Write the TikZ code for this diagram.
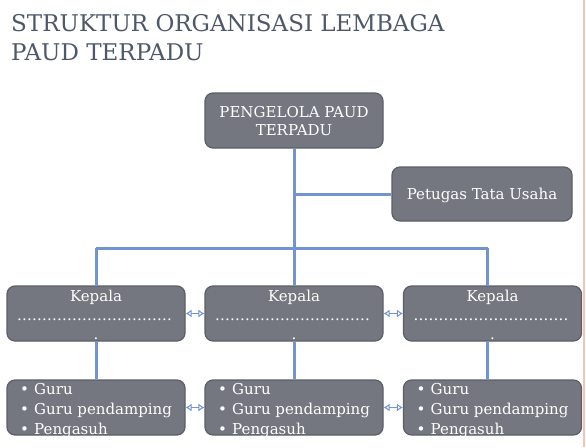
\documentclass[tikz,border=0pt]{standalone}
\usepackage{fontspec}
\setmainfont{DejaVu Serif}
\usetikzlibrary{arrows.meta}
\definecolor{boxfill}{HTML}{74777F}
\definecolor{boxline}{HTML}{5C5F66}
\definecolor{conn}{HTML}{7394D2}
\definecolor{titlec}{HTML}{4E5869}
\definecolor{pinkc}{HTML}{F7C4B4}
\begin{document}
\begin{tikzpicture}[x=1pt,y=-1pt,
  orgbox/.style={draw=boxline, line width=1.2pt, fill=boxfill, rounded corners=8pt, text=white, inner sep=0pt},
  link/.style={draw=conn, line width=3pt},
  dbl/.style={draw=conn, line width=1pt, {Latex[open,length=6pt,width=8pt]}-{Latex[open,length=6pt,width=8pt]}},
  boxtext/.style={font=\fontsize{15}{18}\selectfont, text=white, inner sep=0pt}
]
\useasboundingbox (0,0) rectangle (586,447);
\fill[white] (0,0) rectangle (586,447);
\draw[pinkc, line width=2pt] (583.5,0) -- (583.5,447);

% title
\node[anchor=base west, inner sep=0pt, text=titlec,
  font=\fontsize{23}{30}\selectfont] (title) at (11,31)
  {STRUKTUR ORGANISASI LEMBAGA};
\node[anchor=base west, inner sep=0pt, text=titlec,
  font=\fontsize{23}{30}\selectfont] (title2) at (11,60)
  {PAUD TERPADU};

% boxes
\node[orgbox, minimum width=178pt, minimum height=55pt] (top) at (294,120.5) {};
\node[boxtext, anchor=base] at (294,117) {PENGELOLA PAUD};
\node[boxtext, anchor=base] at (294,135) {TERPADU};
\node[orgbox, minimum width=180pt, minimum height=54pt] (tu) at (482,194) {};
\node[boxtext, anchor=base] at (482,199) {Petugas Tata Usaha};

\foreach \n/\x in {k1/96, k2/294, k3/492.5}{
  \node[orgbox, minimum width=178pt, minimum height=55pt] (\n) at (\x,313.5) {};
  \node[boxtext, anchor=base] at (\x,301) {Kepala};
  \node[boxtext, anchor=base] at (\x,320) {\makebox[158pt]{\leaders\hbox to 5pt{\hss.\hss}\hfill}};
  \node[boxtext, anchor=base] at (\x,339) {.};
}
\foreach \n/\x in {b1/96, b2/294, b3/492.5}{
  \node[orgbox, minimum width=178pt, minimum height=55pt] (\n) at (\x,407.5) {};
  \node[boxtext, anchor=base west] at (\x-76,394) {\textbullet};
  \node[boxtext, anchor=base west] at (\x-76,414) {\textbullet};
  \node[boxtext, anchor=base west] at (\x-76,434) {\textbullet};
  \node[boxtext, anchor=base west] at (\x-62,394) {Guru};
  \node[boxtext, anchor=base west] at (\x-62,414) {Guru pendamping};
  \node[boxtext, anchor=base west] at (\x-62,434) {Pengasuh};
}

% connectors
\coordinate (jv) at (294,248);
\draw[link] (top.south) -- (jv);
\draw[link] (top.south |- tu.west) -- (tu.west);
\draw[link] (96,248) -- (487.5,248);
\draw[link] (96,248) -- (96,286);
\draw[link] (487.5,248) -- (487.5,286);
\draw[link] (jv) -- (k2.north);
\draw[link] (k1.south) -- (b1.north);
\draw[link] (k2.south) -- (b2.north);
\draw[link] (487.5,341) -- (487.5,380);

\draw[dbl] (k1.east) -- (k2.west);
\draw[dbl] (k2.east) -- (k3.west);
\draw[dbl] (b1.east) -- (b2.west);
\draw[dbl] (b2.east) -- (b3.west);
\end{tikzpicture}
\end{document}
